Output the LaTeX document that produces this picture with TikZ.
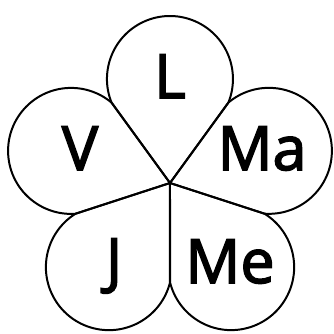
\documentclass[tikz,border=0pt]{standalone}
\usepackage{fontspec}
\newfontfamily\dayfont{Open Sans}[FakeBold=2.5]
\usepackage{tikz}

\begin{document}
\begin{tikzpicture}[scale=0.03, line width=1.7pt,
  day/.style={anchor=base, inner sep=0pt, font=\fontsize{52}{58}\dayfont}]

\useasboundingbox (0,0) rectangle (333,334);

\coordinate (O) at (170,151);

% five petals, each one a line out, an arc and a line back
\foreach \a in {90,162,234,306,18} {
  \draw[line join=round] (O) -- ++(\a+36:99.5)
    arc[start angle=\a+111.9, end angle=\a-111.9, radius=63] -- cycle;
}

\node[day] (lun) at (170,236) {L};
\node[day] (ven) at (80,164) {V};
\node[day] (mar) at (262,164) {Ma};
\node[day] (jeu) at (114,52) {J};
\node[day] (mer) at (230,51) {Me};

\end{tikzpicture}
\end{document}
